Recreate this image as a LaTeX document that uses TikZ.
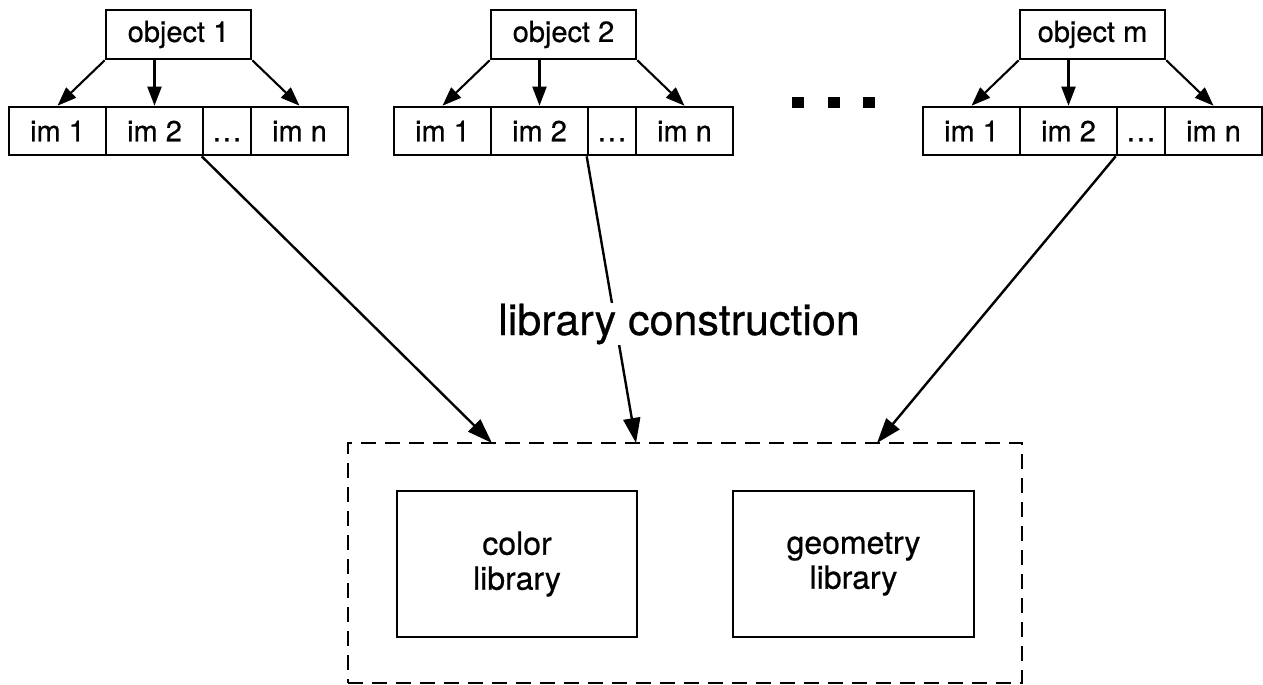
\documentclass[tikz,border=0pt]{standalone}
\usepackage{fontspec}
\setmainfont{TeX Gyre Heros}[FakeBold=0.6]
\usetikzlibrary{arrows.meta,calc}

\tikzset{
  objbox/.style={draw, line width=2.6pt, minimum width=145pt, minimum height=49pt,
    inner sep=0pt, font=\fontsize{29}{34}\selectfont},
  cell/.style={draw, line width=2.6pt, minimum height=48pt, inner sep=0pt,
    font=\fontsize{29}{34}\selectfont},
  libbox/.style={draw, line width=2.7pt, minimum height=146pt, inner sep=0pt,
    align=center, font=\fontsize{32}{35}\selectfont},
  dashbox/.style={draw, line width=2.8pt, dash pattern=on 15pt off 9pt,
    minimum width=674pt, minimum height=240pt, inner sep=0pt},
  small/.style={line width=2.1pt, -{Triangle[length=19pt,width=14pt]}},
  big/.style={line width=2.4pt, -{Triangle[length=25pt,width=17pt]}},
}

% one object with its row of images; #1 name prefix, #2 left edge, #3 label
\newcommand\imagerow[3]{%
  \node[objbox] (#1obj) at (#2+169.5,34.5) {#3};
  \node[cell, minimum width=97pt] (#1a) at (#2+48.5,131) {im 1};
  \node[cell, minimum width=97pt] (#1b) at (#2+145.5,131) {im 2};
  \node[cell, minimum width=48pt] (#1d) at (#2+218,131) {\vphantom{i}.\kern2pt.\kern2pt.};
  \node[cell, minimum width=97pt] (#1n) at (#2+290.5,131) {im n};
  \draw[small] (#1obj.south west) -- (#1a.north);
  \draw[small] (#1b.north |- #1obj.south) -- (#1b.north);
  \draw[small] (#1obj.south east) -- (#1n.north);
}

\begin{document}
\begin{tikzpicture}[x=1pt,y=-1pt]
  \useasboundingbox (0,0) rectangle (1263,685);

  \imagerow{g1}{9}{object 1}
  \imagerow{g2}{394}{object 2}
  \imagerow{gm}{923}{object m}

  % ellipsis between the objects
  \foreach \cx in {798,834,869}
    \fill (\cx-6,96.5) rectangle (\cx+6,107.5);

  % libraries
  \node[dashbox] (lib) at (685,563) {};
  \node[libbox, minimum width=240pt] (color) at (517,564) {color\\library};
  \node[libbox, minimum width=241pt] (geom) at (853.5,564) {geometry\\library};

  \coordinate (e1) at (492,443);
  \coordinate (e2) at (636,443);
  \coordinate (em) at (877,443);

  \draw[big] (g1d.south west) -- (e1);
  \draw[big] (g2d.south west) -- (e2);
  \draw[big] (gmd.south west) -- (em);

  \node[fill=white, inner sep=1pt, anchor=base,
        font=\fontsize{43}{50}\selectfont] (lbl) at (679,335) {library construction};
\end{tikzpicture}
\end{document}
